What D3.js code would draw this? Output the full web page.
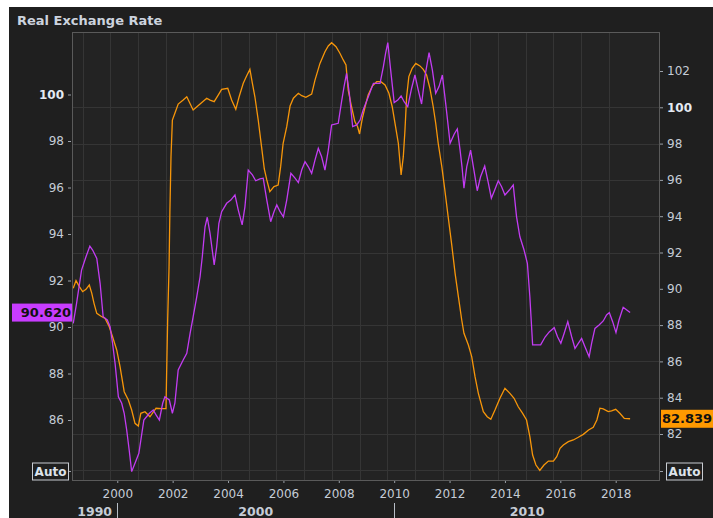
<!DOCTYPE html>
<html>
<head>
<meta charset="utf-8">
<script src="https://cdn.jsdelivr.net/npm/d3@7"></script>
<style>
  html, body { margin: 0; padding: 0; background: #ffffff; }
  svg { display: block; font-family: "DejaVu Sans", sans-serif; }
</style>
</head>
<body>
<div id="chart"></div>
<script>
// Series: [decimal year, value]
const purpleSeries = [
  [1998.41,90.16],[1998.53,91.02],[1998.71,92.45],[1998.87,93.02],[1999.01,93.48],[1999.11,93.31],[1999.26,92.95],
  [1999.38,91.88],[1999.49,90.44],[1999.64,90.30],[1999.74,90.01],[1999.83,89.30],[1999.92,88.44],[2000.04,87.00],
  [2000.16,86.72],[2000.25,86.29],[2000.34,85.57],[2000.43,84.71],[2000.52,83.78],[2000.64,84.14],[2000.78,84.57],
  [2000.96,86.00],[2001.16,86.29],[2001.30,86.43],[2001.40,86.22],[2001.52,86.00],[2001.64,86.72],[2001.72,87.00],
  [2001.88,86.86],[2001.99,86.29],[2002.08,86.72],[2002.20,88.15],[2002.38,88.58],[2002.51,88.87],[2002.63,89.73],
  [2002.74,90.44],[2002.87,91.30],[2002.99,92.16],[2003.07,93.02],[2003.17,94.31],[2003.25,94.72],[2003.35,94.03],
  [2003.43,93.31],[2003.50,92.67],[2003.59,93.45],[2003.67,94.46],[2003.77,94.96],[2003.95,95.32],[2004.10,95.46],
  [2004.25,95.68],[2004.37,95.03],[2004.51,94.39],[2004.61,95.17],[2004.73,96.75],[2004.88,96.54],[2005.00,96.29],
  [2005.15,96.37],[2005.27,96.40],[2005.40,95.46],[2005.54,94.53],[2005.66,94.96],[2005.76,95.25],[2005.88,94.96],
  [2006.00,94.74],[2006.12,95.46],[2006.27,96.61],[2006.42,96.40],[2006.54,96.21],[2006.66,96.75],[2006.78,97.11],
  [2006.90,96.89],[2007.02,96.61],[2007.14,97.18],[2007.26,97.69],[2007.38,97.32],[2007.50,96.75],[2007.62,97.61],
  [2007.74,98.69],[2007.86,98.73],[2007.98,98.76],[2008.10,99.69],[2008.19,100.34],[2008.28,100.91],[2008.38,100.05],
  [2008.50,98.62],[2008.65,98.69],[2008.77,98.90],[2008.88,99.33],[2009.07,99.91],[2009.25,100.48],[2009.49,100.48],
  [2009.61,101.20],[2009.69,101.77],[2009.77,102.23],[2009.86,101.20],[2010.00,99.65],[2010.13,99.76],[2010.25,99.94],
  [2010.36,99.69],[2010.49,99.48],[2010.63,100.27],[2010.75,100.84],[2010.87,100.19],[2010.99,99.59],[2011.11,100.77],
  [2011.26,101.80],[2011.38,101.05],[2011.50,100.05],[2011.62,100.34],[2011.74,100.84],[2011.86,99.62],[2012.02,97.90],
  [2012.17,98.30],[2012.28,98.52],[2012.38,97.61],[2012.45,96.89],[2012.52,95.97],[2012.62,96.89],[2012.76,97.61],
  [2012.88,96.75],[2013.00,95.86],[2013.12,96.46],[2013.27,96.92],[2013.39,96.25],[2013.51,95.54],[2013.63,95.89],
  [2013.76,96.29],[2013.88,96.03],[2014.00,95.68],[2014.16,95.89],[2014.30,96.11],[2014.42,94.74],[2014.54,93.88],
  [2014.69,93.31],[2014.81,92.74],[2014.90,91.30],[2015.00,89.23],[2015.15,89.23],[2015.29,89.23],[2015.45,89.57],
  [2015.60,89.79],[2015.78,89.97],[2015.90,89.58],[2016.02,89.30],[2016.14,89.73],[2016.27,90.23],[2016.41,89.58],
  [2016.53,89.08],[2016.65,89.30],[2016.77,89.51],[2016.89,89.15],[2017.04,88.72],[2017.13,89.30],[2017.25,89.94],
  [2017.40,90.09],[2017.55,90.26],[2017.67,90.52],[2017.77,90.62],[2017.89,90.23],[2018.01,89.76],[2018.12,90.30],
  [2018.27,90.85],[2018.40,90.73],[2018.52,90.62]
];

const orangeSeries = [
  [1998.41,90.03],[1998.51,90.45],[1998.63,90.12],[1998.75,89.84],[1998.87,89.97],[1998.99,90.21],[1999.08,89.75],
  [1999.16,89.20],[1999.26,88.65],[1999.40,88.50],[1999.56,88.37],[1999.71,87.91],[1999.83,87.36],[1999.98,86.63],
  [2000.10,85.71],[2000.25,84.33],[2000.40,83.87],[2000.52,83.32],[2000.64,82.59],[2000.76,82.44],[2000.85,83.14],
  [2001.00,83.23],[2001.18,82.95],[2001.40,83.42],[2001.60,83.40],[2001.76,83.40],[2001.78,85.16],[2001.82,88.28],
  [2001.87,91.22],[2001.90,94.25],[2001.94,97.28],[2001.99,99.30],[2002.08,99.67],[2002.20,100.18],[2002.38,100.40],
  [2002.51,100.58],[2002.74,99.85],[2002.99,100.18],[2003.23,100.50],[2003.35,100.40],[2003.50,100.31],[2003.65,100.68],
  [2003.77,100.99],[2003.99,101.05],[2004.13,100.40],[2004.28,99.89],[2004.40,100.58],[2004.55,101.32],[2004.67,101.72],
  [2004.79,102.09],[2004.88,101.32],[2004.97,100.58],[2005.09,99.30],[2005.21,97.83],[2005.31,96.60],[2005.40,96.00],
  [2005.51,95.35],[2005.66,95.63],[2005.81,95.72],[2005.90,96.73],[2005.99,98.02],[2006.12,98.93],[2006.24,100.07],
  [2006.36,100.50],[2006.54,100.77],[2006.66,100.64],[2006.81,100.55],[2007.02,100.73],[2007.14,101.50],[2007.32,102.42],
  [2007.50,103.06],[2007.62,103.38],[2007.74,103.56],[2007.90,103.34],[2008.04,102.98],[2008.16,102.61],[2008.26,102.33],
  [2008.34,100.95],[2008.46,100.03],[2008.58,99.21],[2008.68,98.93],[2008.75,98.53],[2008.85,99.39],[2008.95,100.03],
  [2009.06,100.68],[2009.21,101.17],[2009.37,101.41],[2009.52,101.41],[2009.67,101.23],[2009.81,100.77],[2009.93,100.03],
  [2010.05,98.93],[2010.15,98.02],[2010.25,96.27],[2010.33,97.28],[2010.39,98.75],[2010.45,100.58],[2010.53,101.69],
  [2010.65,102.15],[2010.78,102.42],[2010.93,102.28],[2011.05,102.09],[2011.17,101.78],[2011.29,101.05],[2011.41,100.03],
  [2011.50,99.12],[2011.59,98.02],[2011.72,96.73],[2011.83,95.44],[2011.95,93.97],[2012.08,92.41],[2012.20,90.85],
  [2012.32,89.56],[2012.44,88.28],[2012.52,87.55],[2012.68,86.90],[2012.80,86.26],[2012.92,85.16],[2013.04,84.24],
  [2013.22,83.23],[2013.36,82.95],[2013.49,82.81],[2013.64,83.32],[2013.82,83.97],[2014.00,84.52],[2014.18,84.24],
  [2014.33,83.97],[2014.48,83.50],[2014.64,83.14],[2014.78,82.77],[2014.90,81.85],[2015.00,80.84],[2015.12,80.29],
  [2015.26,79.99],[2015.41,80.29],[2015.57,80.51],[2015.75,80.51],[2015.87,80.75],[2015.99,81.21],[2016.11,81.39],
  [2016.29,81.58],[2016.47,81.67],[2016.65,81.82],[2016.83,81.98],[2017.02,82.22],[2017.19,82.37],[2017.32,82.77],
  [2017.43,83.42],[2017.55,83.38],[2017.73,83.23],[2017.85,83.28],[2018.00,83.36],[2018.15,83.14],[2018.31,82.86],
  [2018.52,82.839]
];

const purpleLast = "90.620";
const orangeLast = "82.839";

// axis ticks and labels
const leftTicks = [86, 88, 90, 92, 94, 96, 98, 100];
const rightTicks = [82, 84, 86, 88, 90, 92, 94, 96, 98, 100, 102];
const gridValues = [80, 82, 84, 86, 88, 92, 94, 96, 98, 100];
const yearTicks = [2000, 2002, 2004, 2006, 2008, 2010, 2012, 2014, 2016, 2018];
const gridYears = [1999, 2000, 2001, 2002, 2003, 2004, 2005, 2006, 2007, 2008, 2009,
  2010, 2011, 2012, 2013, 2014, 2015, 2016, 2017, 2018];
const decades = [1990, 2000, 2010];

const W = 713, H = 518;
const plot = { left: 72, top: 32, right: 660, bottom: 481 };
const labelColor = "#c5ccd6";
const purple = "#c23cf2";
const orange = "#f7960a";

const x = d3.scaleLinear().domain([1998.365, 2019.6]).range([plot.left, plot.right]);
const yL = d3.scaleLinear().domain([100, 86]).range([94.5, 420]);
const yR = d3.scaleLinear().domain([102, 82]).range([71, 434]);

const svg = d3.select('#chart').append('svg')
  .attr('width', W).attr('height', H);

// panel backgrounds
svg.append('rect').attr('x', 9).attr('y', 7).attr('width', W - 9).attr('height', H - 7)
  .attr('fill', '#1f1f1f');
svg.append('rect')
  .attr('x', plot.left).attr('y', plot.top)
  .attr('width', plot.right - plot.left).attr('height', plot.bottom - plot.top)
  .attr('fill', '#232323');

svg.append('text')
  .attr('x', 17).attr('y', 25)
  .attr('font-size', 13).attr('font-weight', 'bold')
  .attr('fill', '#ccd3de')
  .text('Real Exchange Rate');

// grid
const grid = svg.append('g').attr('stroke', '#353535').attr('stroke-width', 1);
grid.selectAll('line.v').data(gridYears).enter().append('line')
  .attr('class', 'v')
  .attr('x1', d => Math.round(x(d - 0.25)) + 0.5).attr('x2', d => Math.round(x(d - 0.25)) + 0.5)
  .attr('y1', plot.top).attr('y2', plot.bottom);
grid.selectAll('line.h').data(gridValues).enter().append('line')
  .attr('class', 'h')
  .attr('x1', plot.left).attr('x2', plot.right)
  .attr('y1', d => Math.round(yR(d)) + 0.5).attr('y2', d => Math.round(yR(d)) + 0.5);

// lines
svg.append('clipPath').attr('id', 'clip').append('rect')
  .attr('x', plot.left).attr('y', plot.top)
  .attr('width', plot.right - plot.left).attr('height', plot.bottom - plot.top);

const lineL = d3.line().x(d => x(d[0])).y(d => yL(d[1]));
const lineR = d3.line().x(d => x(d[0])).y(d => yR(d[1]));

const lines = svg.append('g').attr('clip-path', 'url(#clip)');
lines.append('path').datum(orangeSeries)
  .attr('d', lineR).attr('fill', 'none').attr('stroke', orange).attr('stroke-width', 1.3);
lines.append('path').datum(purpleSeries)
  .attr('d', lineL).attr('fill', 'none').attr('stroke', purple).attr('stroke-width', 1.3);

// frame
svg.append('rect')
  .attr('x', plot.left + 0.5).attr('y', plot.top + 0.5)
  .attr('width', plot.right - plot.left - 1).attr('height', plot.bottom - plot.top - 1)
  .attr('fill', 'none').attr('stroke', '#5a5a5a');

function styleAxis(g) {
  g.select('.domain').remove();
  g.selectAll('.tick line').attr('stroke', '#9aa0a8');
  g.selectAll('.tick text')
    .attr('fill', labelColor)
    .attr('font-size', 12)
    .attr('font-family', '"DejaVu Sans", sans-serif');
}

const leftAxis = svg.append('g')
  .attr('transform', `translate(${plot.left - 1},0)`)
  .call(d3.axisLeft(yL).tickValues(leftTicks).tickSize(3).tickPadding(4).tickFormat(d3.format('d')))
  .call(styleAxis);
leftAxis.selectAll('.tick text').filter(d => d === 100)
  .attr('font-weight', 'bold').attr('fill', '#e4eaf2');

const rightAxis = svg.append('g')
  .attr('transform', `translate(${plot.right},0)`)
  .call(d3.axisRight(yR).tickValues(rightTicks).tickSize(3).tickPadding(4).tickFormat(d3.format('d')))
  .call(styleAxis);
rightAxis.selectAll('.tick text').filter(d => d === 100)
  .attr('font-weight', 'bold').attr('fill', '#e4eaf2');

svg.append('g')
  .attr('transform', `translate(0,${plot.bottom})`)
  .call(d3.axisBottom(x).tickValues(yearTicks).tickSize(2).tickPadding(6.5).tickFormat(d3.format('d')))
  .call(styleAxis);

// decade band under the year labels
const decadeG = svg.append('g');
decades.forEach(dec => {
  const x0 = Math.max(plot.left, x(dec));
  const x1 = Math.min(plot.right, x(dec + 10));
  if (x(dec) > plot.left) {
    decadeG.append('line')
      .attr('x1', Math.round(x(dec)) + 0.5).attr('x2', Math.round(x(dec)) + 0.5)
      .attr('y1', 503).attr('y2', H)
      .attr('stroke', '#b8bec6');
  }
  decadeG.append('text')
    .attr('x', (x0 + x1) / 2).attr('y', 516)
    .attr('text-anchor', 'middle')
    .attr('font-size', 12.5).attr('font-weight', 'bold')
    .attr('fill', labelColor)
    .text(dec);
});

// last value tags
function valueTag(xPos, yPos, w, anchor, textX, fill, label) {
  svg.append('rect')
    .attr('x', xPos).attr('y', yPos - 9).attr('width', w).attr('height', 18)
    .attr('fill', fill);
  svg.append('text')
    .attr('x', textX).attr('y', yPos).attr('dy', '0.36em')
    .attr('text-anchor', anchor)
    .attr('font-size', 13).attr('font-weight', 'bold')
    .attr('fill', '#111111')
    .text(label);
}
valueTag(12, yL(purpleSeries[purpleSeries.length - 1][1]), 60, 'end', 71, '#c83cff', purpleLast);
valueTag(661, yR(orangeSeries[orangeSeries.length - 1][1]), 52, 'start', 662, '#ff9900', orangeLast);

// "Auto" scale buttons
function autoBox(bx, tickX) {
  const cy = 471.5;
  svg.append('line')
    .attr('x1', tickX).attr('x2', tickX + 3).attr('y1', cy).attr('y2', cy)
    .attr('stroke', '#9aa0a8');
  svg.append('rect')
    .attr('x', bx + 0.5).attr('y', cy - 8.5).attr('width', 36).attr('height', 17)
    .attr('fill', '#1f1f1f').attr('stroke', '#c8ccd2');
  svg.append('text')
    .attr('x', bx + 18.5).attr('y', cy).attr('dy', '0.36em')
    .attr('text-anchor', 'middle')
    .attr('font-size', 12).attr('font-weight', 'bold')
    .attr('fill', '#dde3ea')
    .text('Auto');
}
autoBox(32, 68);
autoBox(666, 660);
</script>
</body>
</html>
